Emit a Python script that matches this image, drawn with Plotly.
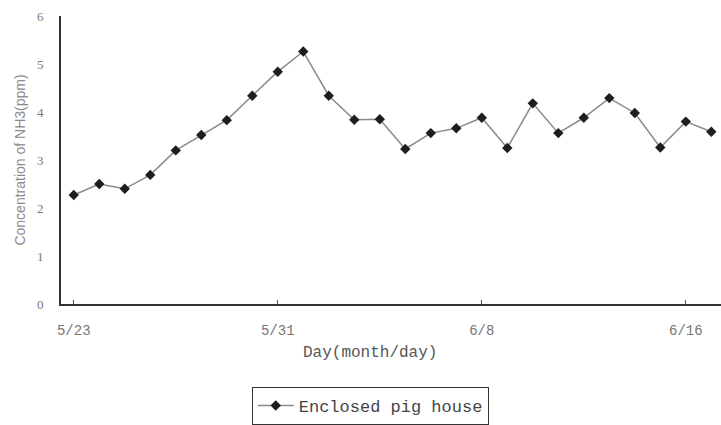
import plotly.graph_objects as go

days = ["5/23","5/24","5/25","5/26","5/27","5/28","5/29","5/30","5/31",
        "6/1","6/2","6/3","6/4","6/5","6/6","6/7","6/8","6/9","6/10","6/11",
        "6/12","6/13","6/14","6/15","6/16","6/17"]
nh3 = [2.27, 2.5, 2.4, 2.69, 3.2, 3.52, 3.83, 4.34, 4.84, 5.26, 4.34, 3.84,
       3.85, 3.23, 3.56, 3.66, 3.88, 3.25, 4.18, 3.56, 3.88, 4.29, 3.98, 3.26, 3.8, 3.59]
tick_labels = ["5/23", "5/31", "6/8", "6/16"]
y_ticks = [0, 1, 2, 3, 4, 5, 6]

x_idx = list(range(len(days)))
tick_idx = [days.index(t) for t in tick_labels]

fig = go.Figure()
fig.add_trace(go.Scatter(
    x=x_idx, y=nh3, mode="lines+markers", name="Enclosed pig house",
    line=dict(color="#8a8a8a", width=1.5),
    marker=dict(symbol="diamond", size=8, color="#1e1e1e"),
))

fig.update_layout(
    width=721, height=425,
    margin=dict(l=61, r=0, t=16, b=121),
    paper_bgcolor="white", plot_bgcolor="white",
    showlegend=True,
    legend=dict(
        x=0.289, y=-0.288, xanchor="left", yanchor="top",
        bordercolor="#333333", borderwidth=1,
        font=dict(family="Liberation Mono", size=17, color="#444444"),
        itemwidth=36,
    ),
    xaxis=dict(
        range=[-0.5, 25.38], tickmode="array", tickvals=tick_idx, ticktext=tick_labels,
        showline=True, linecolor="#333333", linewidth=2, showgrid=False, zeroline=False,
        ticks="inside", ticklen=4, tickcolor="#555555",
        tickfont=dict(family="Liberation Mono", size=14, color="#777777"),
        ticklabelstandoff=12,
    ),
    yaxis=dict(
        range=[0, 6], tickmode="array", tickvals=y_ticks,
        showline=True, linecolor="#333333", linewidth=2, showgrid=False, zeroline=False,
        ticks="", tickfont=dict(family="Liberation Serif", size=13, color="#777777"),
        ticklabelstandoff=13,
        title=dict(text="Concentration of NH3(ppm)", standoff=8,
                   font=dict(family="Liberation Sans", size=14, color="#8a8a8a")),
    ),
)

fig.add_annotation(
    text="Day(month/day)", xref="paper", yref="paper",
    x=0.468, y=-0.17, showarrow=False, xanchor="center", yanchor="middle",
    font=dict(family="Liberation Mono", size=16, color="#555555"),
)

fig.write_html("out.html")
